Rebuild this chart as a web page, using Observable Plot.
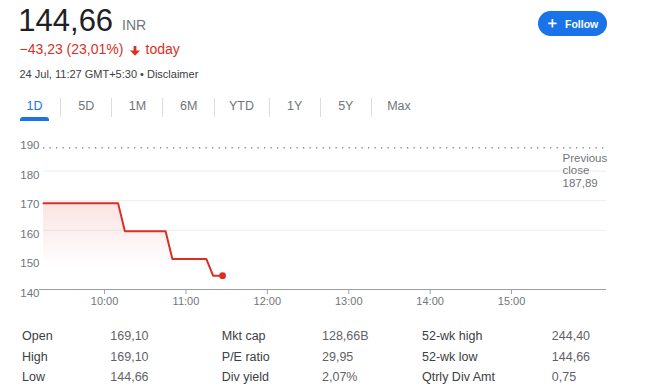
<!DOCTYPE html>
<html>
<head>
<meta charset="utf-8">
<script src="https://cdn.jsdelivr.net/npm/d3@7"></script>
<script src="https://cdn.jsdelivr.net/npm/@observablehq/plot@0.6"></script>
<style>
  body{margin:0;width:650px;height:392px;position:relative;overflow:hidden;background:#fff;font-family:"Liberation Sans",Arial,sans-serif}
  .a{position:absolute;white-space:nowrap;line-height:1}
  .a svg{display:block}
  #chart{position:absolute;left:0;top:130px}
</style>
</head>
<body>
<div id="root"></div>
<div id="chart"></div>
<script>
// ---- data ----
const times  = ["09:15","10:10","10:15","10:45","10:50","11:15","11:20","11:27"];
const prices = [169.10, 169.10, 159.71, 159.71, 150.31, 150.31, 144.66, 144.66];
const prevClose = 187.89;
const yTicks = [140,150,160,170,180,190];
const gridValues = [160,170,180];
const xTickLabels = ["10:00","11:00","12:00","13:00","14:00","15:00"];
const domainTimes = ["09:15","16:10"];
const tabs = ["1D","5D","1M","6M","YTD","1Y","5Y","Max"];
const statLabels1 = ["Open","High","Low"];
const statValues1 = ["169,10","169,10","144,66"];
const statLabels2 = ["Mkt cap","P/E ratio","Div yield"];
const statValues2 = ["128,66B","29,95","2,07%"];
const statLabels3 = ["52-wk high","52-wk low","Qtrly Div Amt"];
const statValues3 = ["244,40","144,66","0,75"];

const toDate = s => { const [h,m] = s.split(":").map(Number); return new Date(Date.UTC(2023,6,24,h,m)); };
const series = times.map((t,i) => ({time: toDate(t), price: prices[i]}));
const last = series[series.length-1];

// ---- header (HTML) ----
const root = document.getElementById("root");
function add(html, style){ const d=document.createElement("div"); d.className="a"; d.innerHTML=html; d.setAttribute("style",style); root.appendChild(d); return d; }
const tp = (baseline,f) => baseline - 0.8465*f;

add("144,66", `left:18.3px;top:${tp(31.5,31)}px;font-size:31px;color:#202124`);
add("INR", `left:122px;top:${tp(30,14)}px;font-size:14px;color:#70757a`);
add("−43,23 (23,01%)", `left:19.5px;top:${tp(54,14)}px;font-size:14px;color:#d93025`);
add(`<svg width="10" height="10" viewBox="0 0 10 10"><rect x="3.6" y="0" width="2.8" height="5.5" fill="#d93025"/><path d="M0,4.6 L10,4.6 L5,9.8 Z" fill="#d93025"/></svg>`, `left:130px;top:45.5px;`);
add("today", `left:145.5px;top:${tp(54,14)}px;font-size:14px;color:#d93025`);
add("24 Jul, 11:27 GMT+5:30 • Disclaimer", `left:19.5px;top:${tp(78,11)}px;font-size:11px;color:#3c4043`);

const tabCenters = [34.5, 86.3, 137.5, 188.7, 241.5, 294.7, 345.8, 399];
tabs.forEach((t,i) => add(t, `left:${tabCenters[i]-25}px;width:50px;text-align:center;top:${tp(111,12.5)}px;font-size:12.5px;color:${i===0?"#1a73e8":"#70757a"}`));
[60,111,162.3,214.3,269.3,320,371].forEach(x => add("", `left:${x}px;top:98px;width:1px;height:19px;background:#dadce0`));
add("", `left:20px;top:117px;width:29px;height:3.5px;border-radius:3px 3px 0 0;background:#1a73e8`);

// follow button
add(`<svg width="69" height="25" viewBox="0 0 69 25"><rect x="0" y="0" width="69" height="25" rx="12.5" fill="#1a73e8"/><path d="M10.2,12.3 H18.6 M14.4,8.1 V16.5" stroke="#fff" stroke-width="1.7"/></svg>`, `left:538px;top:11px;`);
add("Follow", `left:565px;top:${tp(28.3,10.5)}px;font-size:10.5px;font-weight:bold;color:#fff`);

// stats
const rowBase = [340.6, 362.0, 382.0];
const cols = [
  [statLabels1, 22, "#3c4043"], [statValues1, 110.3, "#5f6368"],
  [statLabels2, 221.8, "#3c4043"], [statValues2, 322, "#5f6368"],
  [statLabels3, 422, "#3c4043"], [statValues3, 551.8, "#5f6368"]
];
cols.forEach(([arr,x,c]) => arr.forEach((t,i) => add(t, `left:${x}px;top:${tp(rowBase[i],12.5)}px;font-size:12.5px;color:${c}`)));

// ---- chart (Plot) ----
const prevLabel = [{y: prevClose, label: "Previous\nclose\n" + prevClose.toFixed(2).replace(".", ",")}];

const chart = Plot.plot({
  width: 650,
  height: 185,
  marginTop: 11,
  marginBottom: 26,
  marginLeft: 43,
  marginRight: 44,
  style: {fontFamily: '"Liberation Sans", Arial, sans-serif', fontSize: "11px", color: "#70757a", background: "transparent"},
  x: {type: "utc", domain: domainTimes.map(toDate), ticks: xTickLabels.map(toDate), tickFormat: d3.utcFormat("%H:%M"), tickSize: 5, tickPadding: 3, label: null},
  y: {domain: [140, 190], ticks: yTicks, tickSize: 0, tickPadding: 4, label: null},
  marks: [
    Plot.ruleY(gridValues, {stroke: "#ededed", strokeWidth: 1}),
    Plot.areaY(series, {x: "time", y1: 140, y2: "price", fill: "url(#fadeRed)"}),
    Plot.ruleY([prevClose], {stroke: "#8a8f94", strokeWidth: 1.3, strokeDasharray: "1.3,5.2"}),
    Plot.ruleY([140], {stroke: "#9aa0a6", strokeWidth: 1, insetLeft: -4}),
    Plot.lineY(series, {x: "time", y: "price", stroke: "#d93025", strokeWidth: 2}),
    Plot.dot([last], {x: "time", y: "price", r: 3.4, fill: "#d93025"}),
    Plot.text(prevLabel, {y: "y", text: "label", frameAnchor: "right", textAnchor: "start", dx: -44, dy: 5, lineAnchor: "top", lineHeight: 1.1, fontSize: 11.5, fill: "#70757a"})
  ]
});

const sel = d3.select(chart);
const grad = sel.insert("defs", ":first-child").append("linearGradient")
  .attr("id", "fadeRed").attr("x1", 0).attr("y1", 0).attr("x2", 0).attr("y2", 1);
grad.append("stop").attr("offset", "0%").attr("stop-color", "#d93025").attr("stop-opacity", 0.13);
grad.append("stop").attr("offset", "75%").attr("stop-color", "#d93025").attr("stop-opacity", 0.0);

// axis styling
sel.selectAll('[aria-label^="y-axis"] text').style("font-size", "11.5px").attr("dy", "0.34em");
sel.selectAll('[aria-label^="x-axis"] path, [aria-label^="x-axis"] line').attr("stroke", "#9aa0a6");
document.getElementById("chart").appendChild(chart);
</script>
</body>
</html>
